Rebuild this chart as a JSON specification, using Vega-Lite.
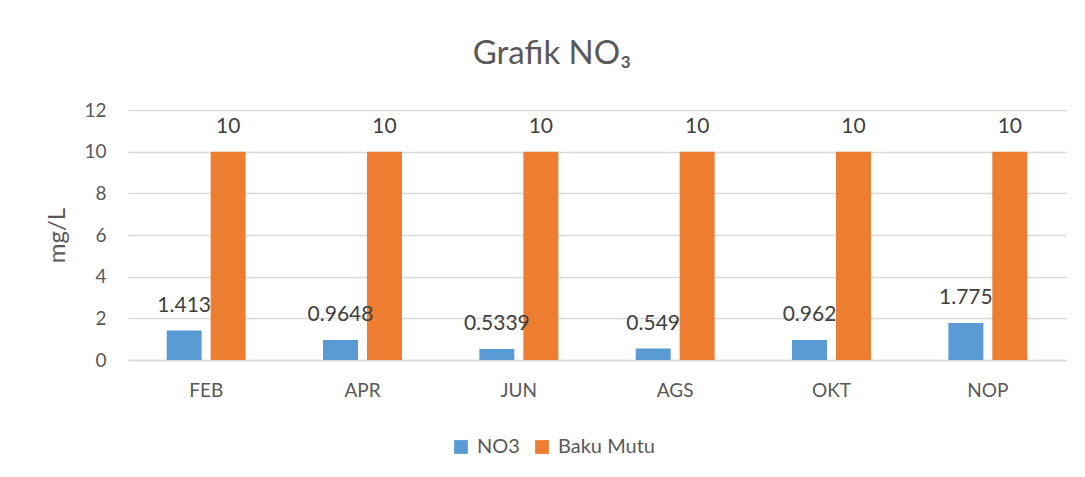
{
  "$schema": "https://vega.github.io/schema/vega-lite/v6.json",
  "width": 938,
  "height": 250,
  "autosize": {"type": "none"},
  "padding": {"left": 128, "top": 110, "right": 19, "bottom": 117},
  "background": "white",
  "title": {
    "text": "Grafik NO₃",
    "font": "Lato",
    "fontSize": 33,
    "fontWeight": "normal",
    "color": "#595959",
    "anchor": "middle",
    "dx": -45,
    "offset": 30
  },
  "data": {
    "values": [
      {"month": "FEB", "series": "NO3", "value": 1.413},
      {"month": "FEB", "series": "Baku Mutu", "value": 10},
      {"month": "APR", "series": "NO3", "value": 0.9648},
      {"month": "APR", "series": "Baku Mutu", "value": 10},
      {"month": "JUN", "series": "NO3", "value": 0.5339},
      {"month": "JUN", "series": "Baku Mutu", "value": 10},
      {"month": "AGS", "series": "NO3", "value": 0.549},
      {"month": "AGS", "series": "Baku Mutu", "value": 10},
      {"month": "OKT", "series": "NO3", "value": 0.962},
      {"month": "OKT", "series": "Baku Mutu", "value": 10},
      {"month": "NOP", "series": "NO3", "value": 1.775},
      {"month": "NOP", "series": "Baku Mutu", "value": 10}
    ]
  },
  "encoding": {
    "x": {
      "field": "month",
      "type": "nominal",
      "sort": ["FEB", "APR", "JUN", "AGS", "OKT", "NOP"],
      "scale": {"paddingInner": 0.495, "paddingOuter": 0.2475},
      "axis": {
        "title": null,
        "labelAngle": 0,
        "labelFont": "Lato",
        "labelFontSize": 19,
        "labelColor": "#595959",
        "labelPadding": 21,
        "ticks": false,
        "domain": true,
        "domainColor": "#d9d9d9",
        "domainWidth": 1.5
      }
    },
    "xOffset": {
      "field": "series",
      "type": "nominal",
      "sort": ["NO3", "Baku Mutu"],
      "scale": {"paddingInner": 0.2045, "paddingOuter": 0}
    },
    "y": {
      "field": "value",
      "type": "quantitative",
      "scale": {"domain": [0, 12]},
      "axis": {
        "title": "mg/L",
        "titleFont": "Lato",
        "titleFontSize": 24,
        "titleFontWeight": "normal",
        "titleColor": "#595959",
        "titlePadding": 14,
        "values": [0, 2, 4, 6, 8, 10, 12],
        "labelFont": "Lato",
        "labelFontSize": 19,
        "labelColor": "#595959",
        "labelPadding": 22,
        "ticks": false,
        "domain": false,
        "grid": true,
        "gridColor": "#d9d9d9",
        "gridWidth": 1.5
      }
    }
  },
  "layer": [
    {
      "mark": {"type": "bar"},
      "encoding": {
        "color": {
          "field": "series",
          "type": "nominal",
          "sort": ["NO3", "Baku Mutu"],
          "scale": {"domain": ["NO3", "Baku Mutu"], "range": ["#5B9BD5", "#ED7D31"]},
          "legend": {
            "title": null,
            "orient": "none",
            "direction": "horizontal",
            "legendX": 323,
            "legendY": 327,
            "symbolType": "square",
            "symbolSize": 190,
            "symbolStrokeWidth": 0,
            "labelFont": "Lato",
            "labelFontSize": 20,
            "labelColor": "#595959",
            "labelOffset": 6,
            "columnPadding": 12
          }
        }
      }
    },
    {
      "mark": {"type": "text", "baseline": "bottom", "dy": -15, "font": "Lato", "fontSize": 21, "color": "#404040"},
      "encoding": {
        "text": {"field": "value", "type": "quantitative", "format": ""}
      }
    }
  ],
  "config": {"view": {"stroke": null}}
}
